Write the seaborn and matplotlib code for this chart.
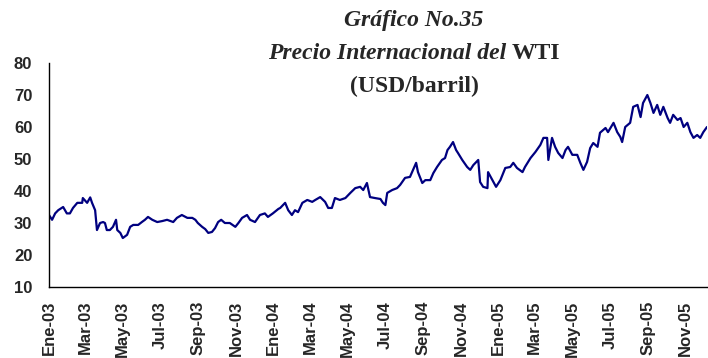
import matplotlib
matplotlib.use("Agg")
import matplotlib.pyplot as plt
import pandas as pd
import seaborn as sns

# Daily WTI spot price, sampled along the series (USD per barrel)
fechas = [
    "2003-01-01", "2003-01-06", "2003-01-11", "2003-01-16", "2003-01-24", "2003-01-30",
    "2003-02-04", "2003-02-09", "2003-02-16", "2003-02-24", "2003-02-25", "2003-03-04",
    "2003-03-09", "2003-03-12", "2003-03-17", "2003-03-20", "2003-03-25", "2003-03-30",
    "2003-04-02", "2003-04-05", "2003-04-10", "2003-04-15", "2003-04-20", "2003-04-22",
    "2003-04-27", "2003-05-01", "2003-05-08", "2003-05-13", "2003-05-18", "2003-05-26",
    "2003-06-01", "2003-06-06", "2003-06-11", "2003-06-18", "2003-06-26", "2003-07-04",
    "2003-07-12", "2003-07-22", "2003-07-28", "2003-08-05", "2003-08-14", "2003-08-22",
    "2003-08-27", "2003-08-31", "2003-09-07", "2003-09-12", "2003-09-17", "2003-09-23",
    "2003-09-28", "2003-10-03", "2003-10-08", "2003-10-14", "2003-10-22", "2003-10-31",
    "2003-11-05", "2003-11-11", "2003-11-19", "2003-11-24", "2003-12-02", "2003-12-10",
    "2003-12-18", "2003-12-23", "2003-12-31", "2004-01-09", "2004-01-12", "2004-01-20",
    "2004-01-25", "2004-01-31", "2004-02-05", "2004-02-10", "2004-02-17", "2004-02-25",
    "2004-03-04", "2004-03-09", "2004-03-17", "2004-03-25", "2004-03-30", "2004-04-05",
    "2004-04-10", "2004-04-18", "2004-04-27", "2004-05-05", "2004-05-13", "2004-05-21",
    "2004-05-26", "2004-06-01", "2004-06-06", "2004-06-14", "2004-06-23", "2004-06-27",
    "2004-07-01", "2004-07-04", "2004-07-12", "2004-07-20", "2004-07-25", "2004-08-02",
    "2004-08-10", "2004-08-15", "2004-08-20", "2004-08-23", "2004-08-30", "2004-09-04",
    "2004-09-12", "2004-09-17", "2004-09-23", "2004-10-01", "2004-10-06", "2004-10-10",
    "2004-10-14", "2004-10-19", "2004-10-24", "2004-10-27", "2004-11-03", "2004-11-11",
    "2004-11-16", "2004-11-21", "2004-11-29", "2004-12-02", "2004-12-07", "2004-12-14",
    "2004-12-15", "2004-12-22", "2004-12-28", "2005-01-04", "2005-01-12", "2005-01-20",
    "2005-01-25", "2005-01-31", "2005-02-09", "2005-02-13", "2005-02-22", "2005-03-02",
    "2005-03-10", "2005-03-15", "2005-03-21", "2005-03-23", "2005-03-29", "2005-04-03",
    "2005-04-08", "2005-04-15", "2005-04-20", "2005-04-24", "2005-05-01", "2005-05-09",
    "2005-05-14", "2005-05-19", "2005-05-25", "2005-05-30", "2005-06-04", "2005-06-11",
    "2005-06-15", "2005-06-24", "2005-06-28", "2005-07-07", "2005-07-13", "2005-07-18",
    "2005-07-21", "2005-07-26", "2005-08-03", "2005-08-08", "2005-08-15", "2005-08-20",
    "2005-08-24", "2005-08-31", "2005-09-05", "2005-09-10", "2005-09-16", "2005-09-21",
    "2005-09-26", "2005-10-03", "2005-10-07", "2005-10-12", "2005-10-19", "2005-10-24",
    "2005-10-29", "2005-11-04", "2005-11-09", "2005-11-14", "2005-11-20", "2005-11-25",
    "2005-11-30", "2005-12-06",
]
precios = [
    32.5, 31.0, 33.0, 34.0, 35.0, 33.0,
    33.0, 34.7, 36.3, 36.3, 37.8, 36.3,
    38.0, 36.3, 34.0, 27.8, 30.0, 30.3,
    30.0, 27.8, 27.8, 28.8, 31.0, 27.8,
    26.9, 25.3, 26.3, 28.8, 29.4, 29.4,
    30.3, 31.0, 31.9, 31.0, 30.3, 30.6,
    31.0, 30.3, 31.6, 32.5, 31.6, 31.6,
    31.0, 30.0, 28.8, 28.1, 26.9, 27.2,
    28.4, 30.3, 31.0, 30.0, 30.0, 28.8,
    30.0, 31.6, 32.5, 31.0, 30.3, 32.5,
    33.0, 31.9, 33.0, 34.4, 34.7, 36.3,
    34.0, 32.5, 34.0, 33.4, 36.3, 37.2,
    36.6, 37.2, 38.1, 36.6, 34.7, 34.7,
    37.8, 37.2, 37.8, 39.4, 40.9, 41.3,
    40.3, 42.5, 38.1, 37.8, 37.5, 36.3,
    35.6, 39.4, 40.3, 40.9, 41.9, 44.1,
    44.4, 46.6, 48.8, 45.9, 42.5, 43.4,
    43.4, 45.6, 47.5, 49.7, 50.3, 52.8,
    53.8, 55.3, 52.8, 51.9, 49.7, 47.5,
    46.6, 48.1, 49.7, 42.8, 41.3, 40.9,
    45.9, 43.4, 41.3, 43.4, 47.2, 47.5,
    48.8, 47.2, 45.9, 47.5, 50.3, 52.2,
    54.4, 56.6, 56.6, 49.7, 56.6, 53.8,
    51.9, 50.3, 52.8, 53.8, 51.3, 51.3,
    48.8, 46.6, 49.1, 53.4, 55.0, 53.8,
    58.2, 59.7, 58.4, 61.3, 58.4, 56.9,
    55.3, 60.0, 61.3, 66.3, 66.9, 63.1,
    67.5, 70.0, 67.5, 64.4, 66.9, 63.8,
    66.3, 62.8, 61.3, 63.8, 62.2, 62.8,
    60.0, 61.3, 58.4, 56.6, 57.5, 56.6,
    58.4, 60.0,
]

# Bimonthly date ticks with Spanish month abbreviations
fechas_ticks = [
    "2003-01-01", "2003-03-01", "2003-05-01", "2003-07-01", "2003-09-01", "2003-11-01",
    "2004-01-01", "2004-03-01", "2004-05-01", "2004-07-01", "2004-09-01", "2004-11-01",
    "2005-01-01", "2005-03-01", "2005-05-01", "2005-07-01", "2005-09-01", "2005-11-01",
]
etiquetas_ticks = [
    "Ene-03", "Mar-03", "May-03", "Jul-03", "Sep-03", "Nov-03",
    "Ene-04", "Mar-04", "May-04", "Jul-04", "Sep-04", "Nov-04",
    "Ene-05", "Mar-05", "May-05", "Jul-05", "Sep-05", "Nov-05",
]
valores_y = [10, 20, 30, 40, 50, 60, 70, 80]

sns.set_style("white")
plt.rcParams["font.family"] = ["Liberation Sans", "DejaVu Sans"]

df = pd.DataFrame({"fecha": pd.to_datetime(fechas), "precio": precios})

W, H = 708, 358
fig = plt.figure(figsize=(W / 100, H / 100), dpi=100)
ax = fig.add_axes([49 / W, 1 - 287 / H, (707 - 49) / W, (287 - 63) / H])

sns.lineplot(data=df, x="fecha", y="precio", ax=ax, color="#000080", linewidth=1.6)

ax.set_xlim(pd.Timestamp("2003-01-01"), pd.Timestamp("2005-12-06"))
ax.set_ylim(10, 80)
ax.set_yticks(valores_y)
ax.set_yticklabels([str(v) for v in valores_y], fontsize=12, fontweight="bold")
ax.set_xticks(pd.to_datetime(fechas_ticks))
ax.set_xticklabels(etiquetas_ticks, rotation=90, fontsize=12, fontweight="bold")
ax.set_xlabel("")
ax.set_ylabel("")

for lado in ("top", "right"):
    ax.spines[lado].set_visible(False)
for lado in ("left", "bottom"):
    ax.spines[lado].set_color("black")
    ax.spines[lado].set_linewidth(1.0)
ax.tick_params(axis="both", direction="out", length=4, width=1, color="black")
ax.tick_params(axis="y", pad=8)
ax.tick_params(axis="x", pad=6)

# Title block, centred over the plot
serif = ["Liberation Serif", "DejaVu Serif"]
cx = 414
tam = 17
fig.text(cx / W, 1 - 26 / H, "Gráfico No.35", ha="center", va="baseline",
         fontsize=tam, fontweight="bold", fontstyle="italic", family=serif)

renderer = fig.canvas.get_renderer()
t_it = fig.text(0, 1 - 59 / H, "Precio Internacional del", ha="left", va="baseline",
                fontsize=tam, fontweight="bold", fontstyle="italic", family=serif)
t_up = fig.text(0, 1 - 59 / H, "WTI", ha="left", va="baseline",
                fontsize=tam, fontweight="bold", family=serif)
w_it = t_it.get_window_extent(renderer).width
w_up = t_up.get_window_extent(renderer).width
hueco = 5
x0 = cx - (w_it + hueco + w_up) / 2
t_it.set_x(x0 / W)
t_up.set_x((x0 + w_it + hueco) / W)

fig.text(cx / W, 1 - 92 / H, "(USD/barril)", ha="center", va="baseline",
         fontsize=tam, fontweight="bold", family=serif)

fig.savefig("out.png", dpi=100)
